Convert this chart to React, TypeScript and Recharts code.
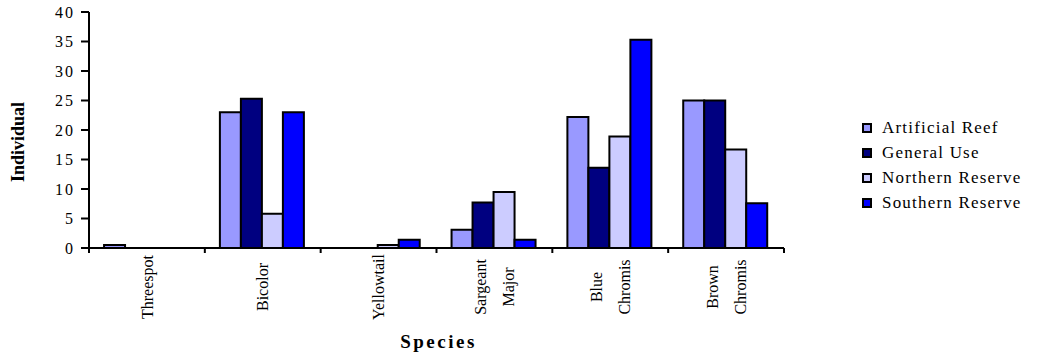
import React from 'react';
import { BarChart, Bar, XAxis, YAxis } from 'recharts';

// Mean individuals counted per species, by survey zone
const SPECIES = ['Threespot', 'Bicolor', 'Yellowtail', 'Sargeant\nMajor', 'Blue\nChromis', 'Brown\nChromis'];
const ARTIFICIAL_REEF = [0.5, 23, 0, 3.1, 22.2, 25];
const GENERAL_USE = [0, 25.3, 0, 7.7, 13.6, 25];
const NORTHERN_RESERVE = [0, 5.8, 0.5, 9.5, 18.9, 16.7];
const SOUTHERN_RESERVE = [0, 23, 1.4, 1.4, 35.3, 7.6];
const Y_TICKS = [0, 5, 10, 15, 20, 25, 30, 35, 40];

const SERIES = [
  { key: 'artificial', name: 'Artificial Reef', color: '#9999FF' },
  { key: 'general', name: 'General Use', color: '#000080' },
  { key: 'northern', name: 'Northern Reserve', color: '#CCCCFF' },
  { key: 'southern', name: 'Southern Reserve', color: '#0000FF' },
];

const data = SPECIES.map((name, i) => ({
  name,
  artificial: ARTIFICIAL_REEF[i],
  general: GENERAL_USE[i],
  northern: NORTHERN_RESERVE[i],
  southern: SOUTHERN_RESERVE[i],
}));

const FONT = '"Liberation Serif", "Times New Roman", serif';

// category label, rotated, with the tick marks sitting on the band edges
const SpeciesTick = (props: any) => {
  const { x, y, payload, width, visibleTicksCount, index } = props;
  const band = width / visibleTicksCount;
  const lines = String(payload.value).split('\n');
  const isLast = index === visibleTicksCount - 1;
  return (
    <g>
      <line x1={x - band / 2} x2={x - band / 2} y1={y - 8} y2={y - 3} stroke="#000" strokeWidth={2} />
      {isLast && <line x1={x + band / 2} x2={x + band / 2} y1={y - 8} y2={y - 3} stroke="#000" strokeWidth={2} />}
      {lines.map((line, i) => {
        const lx = x + (i - (lines.length - 1) / 2) * 28;
        return (
          <text
            key={i}
            transform={`translate(${lx},${y + 31}) rotate(-90)`}
            textAnchor="middle"
            dy="0.35em"
            fontFamily={FONT}
            fontSize={16}
            fill="#000"
          >
            {line}
          </text>
        );
      })}
    </g>
  );
};

const ValueTick = (props: any) => {
  const { x, y, payload } = props;
  return (
    <text x={x} y={y} dy="0.35em" textAnchor="end" fontFamily={FONT} fontSize={16} letterSpacing={2} fill="#000">
      {payload.value}
    </text>
  );
};

const YTitle = (props: any) => {
  const { viewBox } = props;
  const cy = viewBox.y + viewBox.height / 2;
  return (
    <text
      transform={`translate(18,${cy + 12}) rotate(-90)`}
      textAnchor="middle"
      dy="0.35em"
      fontFamily={FONT}
      fontSize={18}
      fontWeight="bold"
      fill="#000"
    >
      Individual
    </text>
  );
};

const XTitle = (props: any) => {
  const { viewBox } = props;
  const cx = viewBox.x + viewBox.width / 2;
  return (
    <text x={cx + 2} y={348} textAnchor="middle" fontFamily={FONT} fontSize={19} fontWeight="bold" letterSpacing={2.5} fill="#000">
      Species
    </text>
  );
};

const ZoneLegend = () => (
  <div
    style={{
      position: 'absolute',
      left: 862,
      top: 115,
      fontFamily: FONT,
      fontSize: 17,
      letterSpacing: 1.2,
      color: '#000',
    }}
  >
    {SERIES.map((s) => (
      <div key={s.key} style={{ display: 'flex', alignItems: 'center', height: 25 }}>
        <span
          style={{
            display: 'inline-block',
            width: 6,
            height: 6,
            background: s.color,
            border: '2px solid #000',
            marginRight: 10,
          }}
        />
        <span>{s.name}</span>
      </div>
    ))}
  </div>
);

export default function App() {
  return (
    <div style={{ position: 'absolute', left: 0, top: 0, width: 1050, height: 355, background: '#fff' }}>
      <BarChart
        width={1050}
        height={355}
        data={data}
        margin={{ top: 12, right: 266, left: 0, bottom: 0 }}
        barCategoryGap="13%"
        barGap={0}
      >
        <XAxis
          dataKey="name"
          height={107}
          interval={0}
          tickLine={false}
          axisLine={{ stroke: '#000', strokeWidth: 2 }}
          tick={<SpeciesTick />}
          label={<XTitle />}
        />
        <YAxis
          width={89}
          domain={[0, 40]}
          ticks={Y_TICKS}
          interval={0}
          tickSize={8}
          tickMargin={6}
          tickLine={{ stroke: '#000', strokeWidth: 2 }}
          axisLine={{ stroke: '#000', strokeWidth: 2 }}
          tick={<ValueTick />}
          label={<YTitle />}
        />
        {SERIES.map((s) => (
          <Bar
            key={s.key}
            dataKey={s.key}
            name={s.name}
            fill={s.color}
            stroke="#000"
            strokeWidth={2}
            isAnimationActive={false}
          />
        ))}
      </BarChart>
      <ZoneLegend />
    </div>
  );
}
